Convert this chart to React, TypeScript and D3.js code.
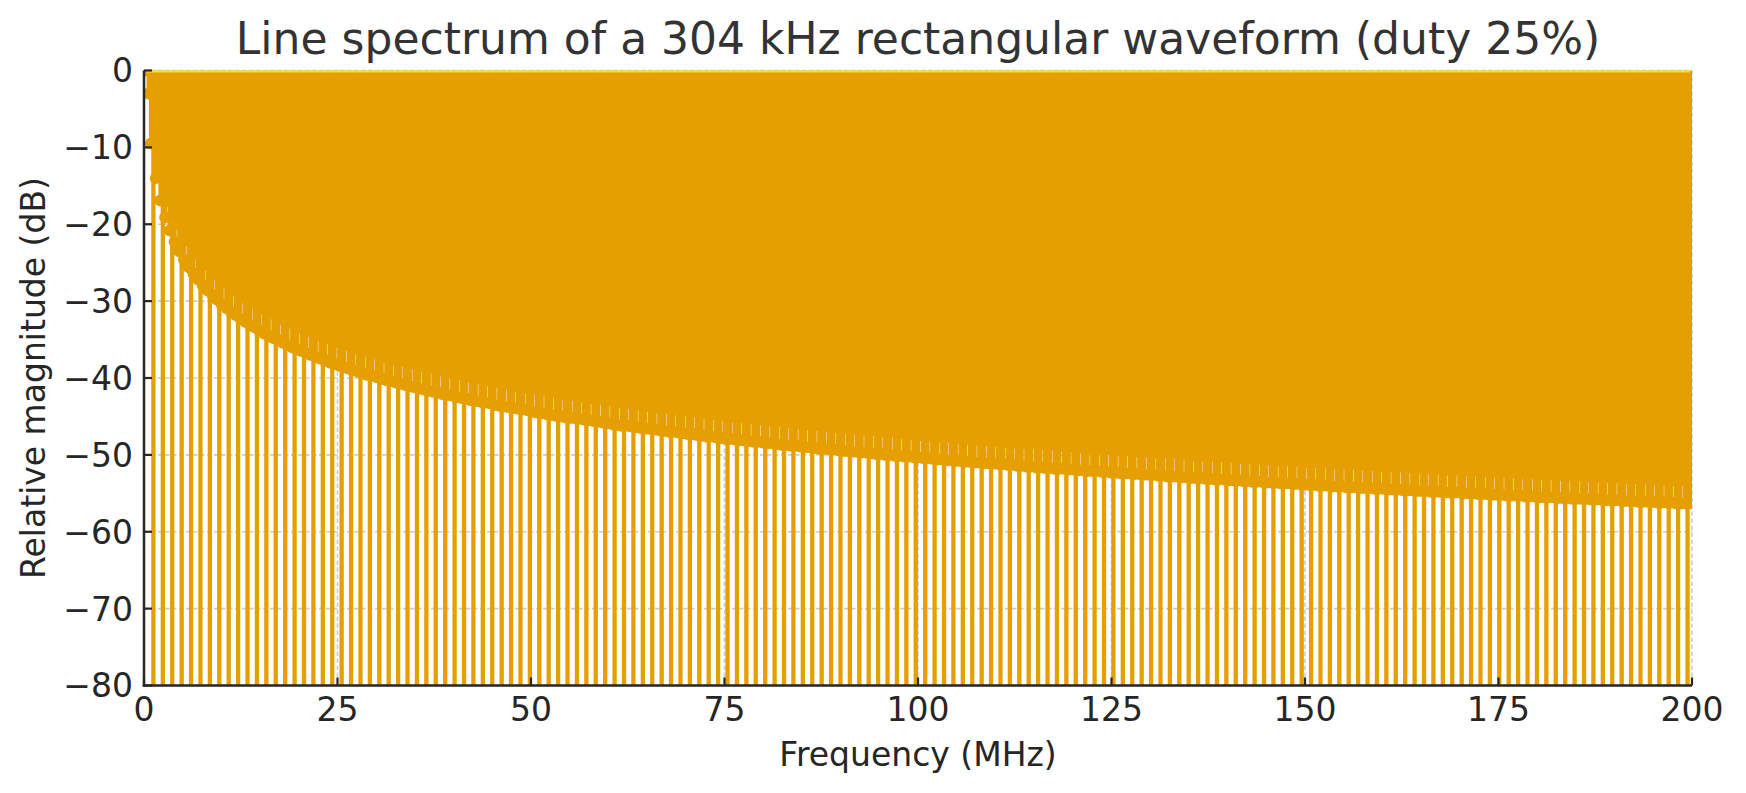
import * as d3 from 'd3';

// Harmonic lines of the rectangular wave, one entry per harmonic n = 1, 2, 3, ...
// Every 4th harmonic is a spectral null; those drop far below the axis floor.
const Z = -300;

const FUNDAMENTAL_MHZ = 0.304;

const lineLevelsDb: number[] = [
    0, -3.0, -9.5, Z, -14.0, -12.6, -16.9, Z,
    -19.1, -17.0, -20.8, Z, -22.3, -19.9, -23.5, Z,
    -24.6, -22.1, -25.6, Z, -26.4, -23.8, -27.2, Z,
    -28.0, -25.3, -28.6, Z, -29.2, -26.5, -29.8, Z,
    -30.4, -27.6, -30.9, Z, -31.4, -28.6, -31.8, Z,
    -32.3, -29.5, -32.7, Z, -33.1, -30.2, -33.4, Z,
    -33.8, -31.0, -34.2, Z, -34.5, -31.6, -34.8, Z,
    -35.1, -32.3, -35.4, Z, -35.7, -32.8, -36.0, Z,
    -36.3, -33.4, -36.5, Z, -36.8, -33.9, -37.0, Z,
    -37.3, -34.4, -37.5, Z, -37.7, -34.8, -38.0, Z,
    -38.2, -35.3, -38.4, Z, -38.6, -35.7, -38.8, Z,
    -39.0, -36.1, -39.2, Z, -39.4, -36.5, -39.6, Z,
    -39.7, -36.8, -39.9, Z, -40.1, -37.2, -40.3, Z,
    -40.4, -37.5, -40.6, Z, -40.7, -37.8, -40.9, Z,
    -41.1, -38.1, -41.2, Z, -41.4, -38.4, -41.5, Z,
    -41.7, -38.7, -41.8, Z, -41.9, -39.0, -42.1, Z,
    -42.2, -39.3, -42.3, Z, -42.5, -39.5, -42.6, Z,
    -42.7, -39.8, -42.9, Z, -43.0, -40.0, -43.1, Z,
    -43.2, -40.3, -43.3, Z, -43.5, -40.5, -43.6, Z,
    -43.7, -40.7, -43.8, Z, -43.9, -41.0, -44.0, Z,
    -44.1, -41.2, -44.2, Z, -44.4, -41.4, -44.5, Z,
    -44.6, -41.6, -44.7, Z, -44.8, -41.8, -44.9, Z,
    -45.0, -42.0, -45.1, Z, -45.2, -42.2, -45.2, Z,
    -45.3, -42.4, -45.4, Z, -45.5, -42.6, -45.6, Z,
    -45.7, -42.7, -45.8, Z, -45.9, -42.9, -46.0, Z,
    -46.1, -43.1, -46.2, Z, -46.2, -43.3, -46.3, Z,
    -46.4, -43.4, -46.5, Z, -46.6, -43.6, -46.6, Z,
    -46.7, -43.8, -46.8, Z, -46.9, -43.9, -47.0, Z,
    -47.0, -44.1, -47.1, Z, -47.2, -44.2, -47.3, Z,
    -47.3, -44.4, -47.4, Z, -47.5, -44.5, -47.6, Z,
    -47.6, -44.7, -47.7, Z, -47.8, -44.8, -47.9, Z,
    -47.9, -45.0, -48.0, Z, -48.1, -45.1, -48.1, Z,
    -48.2, -45.2, -48.3, Z, -48.3, -45.4, -48.4, Z,
    -48.5, -45.5, -48.5, Z, -48.6, -45.6, -48.7, Z,
    -48.7, -45.7, -48.8, Z, -48.8, -45.9, -48.9, Z,
    -49.0, -46.0, -49.0, Z, -49.1, -46.1, -49.2, Z,
    -49.2, -46.2, -49.3, Z, -49.3, -46.4, -49.4, Z,
    -49.5, -46.5, -49.5, Z, -49.6, -46.6, -49.6, Z,
    -49.7, -46.7, -49.7, Z, -49.8, -46.8, -49.9, Z,
    -49.9, -46.9, -50.0, Z, -50.0, -47.0, -50.1, Z,
    -50.1, -47.2, -50.2, Z, -50.2, -47.3, -50.3, Z,
    -50.3, -47.4, -50.4, Z, -50.4, -47.5, -50.5, Z,
    -50.6, -47.6, -50.6, Z, -50.7, -47.7, -50.7, Z,
    -50.8, -47.8, -50.8, Z, -50.9, -47.9, -50.9, Z,
    -51.0, -48.0, -51.0, Z, -51.1, -48.1, -51.1, Z,
    -51.1, -48.2, -51.2, Z, -51.2, -48.3, -51.3, Z,
    -51.3, -48.4, -51.4, Z, -51.4, -48.5, -51.5, Z,
    -51.5, -48.5, -51.6, Z, -51.6, -48.6, -51.7, Z,
    -51.7, -48.7, -51.8, Z, -51.8, -48.8, -51.8, Z,
    -51.9, -48.9, -51.9, Z, -52.0, -49.0, -52.0, Z,
    -52.1, -49.1, -52.1, Z, -52.1, -49.2, -52.2, Z,
    -52.2, -49.2, -52.3, Z, -52.3, -49.3, -52.4, Z,
    -52.4, -49.4, -52.4, Z, -52.5, -49.5, -52.5, Z,
    -52.6, -49.6, -52.6, Z, -52.6, -49.7, -52.7, Z,
    -52.7, -49.7, -52.8, Z, -52.8, -49.8, -52.8, Z,
    -52.9, -49.9, -52.9, Z, -53.0, -50.0, -53.0, Z,
    -53.0, -50.1, -53.1, Z, -53.1, -50.1, -53.2, Z,
    -53.2, -50.2, -53.2, Z, -53.3, -50.3, -53.3, Z,
    -53.3, -50.4, -53.4, Z, -53.4, -50.4, -53.5, Z,
    -53.5, -50.5, -53.5, Z, -53.6, -50.6, -53.6, Z,
    -53.6, -50.7, -53.7, Z, -53.7, -50.7, -53.7, Z,
    -53.8, -50.8, -53.8, Z, -53.9, -50.9, -53.9, Z,
    -53.9, -50.9, -54.0, Z, -54.0, -51.0, -54.0, Z,
    -54.1, -51.1, -54.1, Z, -54.1, -51.1, -54.2, Z,
    -54.2, -51.2, -54.2, Z, -54.3, -51.3, -54.3, Z,
    -54.3, -51.3, -54.4, Z, -54.4, -51.4, -54.4, Z,
    -54.5, -51.5, -54.5, Z, -54.5, -51.5, -54.6, Z,
    -54.6, -51.6, -54.6, Z, -54.7, -51.7, -54.7, Z,
    -54.7, -51.7, -54.8, Z, -54.8, -51.8, -54.8, Z,
    -54.9, -51.9, -54.9, Z, -54.9, -51.9, -54.9, Z,
    -55.0, -52.0, -55.0, Z, -55.0, -52.0, -55.1, Z,
    -55.1, -52.1, -55.1, Z, -55.2, -52.2, -55.2, Z,
    -55.2, -52.2, -55.3, Z, -55.3, -52.3, -55.3, Z,
    -55.3, -52.4, -55.4, Z, -55.4, -52.4, -55.4, Z,
    -55.5, -52.5, -55.5, Z, -55.5, -52.5, -55.5, Z,
    -55.6, -52.6, -55.6, Z, -55.6, -52.6, -55.7, Z,
    -55.7, -52.7, -55.7, Z, -55.7, -52.8, -55.8, Z,
    -55.8, -52.8, -55.8, Z, -55.9, -52.9, -55.9, Z,
    -55.9, -52.9, -55.9, Z, -56.0, -53.0, -56.0, Z,
    -56.0, -53.0, -56.1, Z, -56.1, -53.1, -56.1, Z,
    -56.1, -53.1, -56.2, Z, -56.2, -53.2, -56.2, Z,
    -56.2, -53.3, -56.3, Z, -56.3, -53.3, -56.3, Z,
    -56.3,
];

const xTicks = [0, 25, 50, 75, 100, 125, 150, 175, 200];
const yTicks = [0, -10, -20, -30, -40, -50, -60, -70, -80];

const WIDTH = 1746;
const HEIGHT = 793;
const FONT = '"DejaVu Sans", Verdana, sans-serif';
const ORANGE = '#E69F00';
const YELLOW = '#F0E442';
const INK = '#262626';

const margin = { left: 144, right: 54, top: 70.5, bottom: 107.5 };

const fmt = (v: number) => (v < 0 ? `\u2212${Math.abs(v)}` : `${v}`);

export default function App() {
    const x = d3.scaleLinear()
        .domain([0, 200])
        .range([margin.left, WIDTH - margin.right]);
    const y = d3.scaleLinear()
        .domain([-80, 0])
        .range([HEIGHT - margin.bottom, margin.top]);

    const [x0, x1] = x.range();
    const [yb, yt] = y.range();

    const lines = lineLevelsDb.map((db, i) => ({
        f: (i + 1) * FUNDAMENTAL_MHZ,
        db,
    }));
    const fMin = lines[0].f;
    const fMax = lines[lines.length - 1].f;

    return (
        <svg
            width={WIDTH}
            height={HEIGHT}
            style={{ position: 'absolute', left: 0, top: 0, background: '#fff' }}
            fontFamily={FONT}
        >
            <defs>
                <clipPath id="plot-area">
                    <rect x={x0} y={yt} width={x1 - x0} height={yb - yt} />
                </clipPath>
            </defs>

            {/* grid, drawn under the stems */}
            <g stroke="#cccccc" strokeWidth={1.6} strokeDasharray="4.5,2.5">
                {xTicks.map(t => (
                    <line key={`gx${t}`} x1={x(t)} x2={x(t)} y1={yt} y2={yb} />
                ))}
                {yTicks.map(t => (
                    <line key={`gy${t}`} x1={x0} x2={x1} y1={y(t)} y2={y(t)} />
                ))}
            </g>

            <g clipPath="url(#plot-area)">
                {/* stems from the 0 dB baseline down to each line level */}
                <g stroke={ORANGE} strokeWidth={4.3}>
                    {lines.map((d, i) => (
                        <line key={i} x1={x(d.f)} x2={x(d.f)} y1={y(0)} y2={y(d.db)} />
                    ))}
                </g>
                <g fill={ORANGE}>
                    {lines.map((d, i) => (
                        <circle key={i} cx={x(d.f)} cy={y(d.db)} r={6} />
                    ))}
                </g>
                <line x1={x(fMin)} x2={x(fMax)} y1={y(0)} y2={y(0)} stroke={YELLOW} strokeWidth={4} />
            </g>

            {/* spines */}
            <line x1={x0} x2={x0} y1={yt} y2={yb + 1.25} stroke={INK} strokeWidth={2.5} />
            <line x1={x0 - 1.25} x2={x1} y1={yb} y2={yb} stroke={INK} strokeWidth={2.5} />

            {/* ticks point inwards */}
            <g stroke={INK} strokeWidth={2.2}>
                {xTicks.map(t => (
                    <line key={`tx${t}`} x1={x(t)} x2={x(t)} y1={yb} y2={yb - 8} />
                ))}
                {yTicks.map(t => (
                    <line key={`ty${t}`} x1={x0} x2={x0 + 8} y1={y(t)} y2={y(t)} />
                ))}
            </g>

            <g fill={INK} fontSize={33}>
                {xTicks.map(t => (
                    <text key={`lx${t}`} x={x(t)} y={721} textAnchor="middle">{t}</text>
                ))}
                {yTicks.map(t => (
                    <text key={`ly${t}`} x={x0 - 11} y={y(t)} dy="0.36em" textAnchor="end">{fmt(t)}</text>
                ))}
            </g>

            <text x={(x0 + x1) / 2} y={766} textAnchor="middle" fontSize={33} fill={INK}>
                Frequency (MHz)
            </text>
            <text
                transform={`translate(45, ${(yt + yb) / 2}) rotate(-90)`}
                textAnchor="middle"
                fontSize={33}
                fill={INK}
            >
                Relative magnitude (dB)
            </text>
            <text x={(x0 + x1) / 2} y={54} textAnchor="middle" fontSize={44} fill="#333333">
                Line spectrum of a 304 kHz rectangular waveform (duty 25%)
            </text>
        </svg>
    );
}
